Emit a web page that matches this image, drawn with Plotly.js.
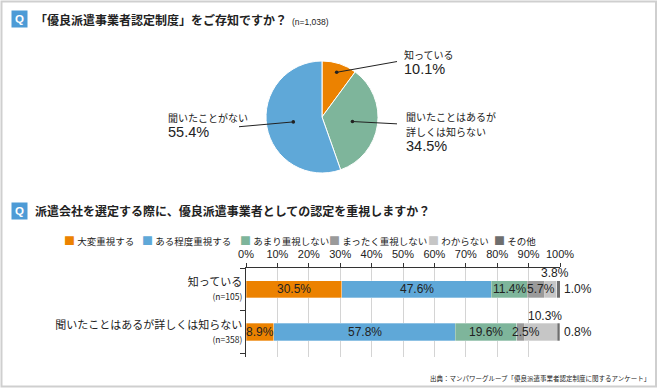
<!DOCTYPE html>
<html><head><meta charset="utf-8">
<script src="https://cdn.plot.ly/plotly-3.0.1.min.js"></script>
<style>html,body{margin:0;padding:0;background:#fff}#chart{width:660px;height:388px}</style>
</head><body><div id="chart"></div>
<script>
// ---- data ----
const pieLabels = ['知っている', '聞いたことはあるが<br>詳しくは知らない', '聞いたことがない'];
const pieValues = [10.1, 34.5, 55.4];
const pieColors = ['#ec8200', '#7eb59b', '#5fa8d8'];

const barCategories = ['知っている', '聞いたことはあるが詳しくは知らない'];
const barSampleSizes = ['(n=105)', '(n=358)'];
const seriesNames = ['大変重視する', 'ある程度重視する', 'あまり重視しない', 'まったく重視しない', 'わからない', 'その他'];
const sVeryImportant = [30.5, 8.9];
const sSomewhat = [47.6, 57.8];
const sNotMuch = [11.4, 19.6];
const sNotAtAll = [5.7, 2.5];
const sDontKnow = [3.8, 10.3];
const sOther = [1.0, 0.8];
const seriesColors = ['#ec8200', '#5fa8d8', '#7eb59b', '#9a9a9a', '#c6c6c6', '#6e6e6e'];
const xTicks = [0, 10, 20, 30, 40, 50, 60, 70, 80, 90, 100];

// ---- layout helpers ----
const W = 660, H = 388;
const px2x = p => p / W, px2y = p => 1 - p / H;
const JP = '"Noto Sans CJK JP", "Noto Sans", sans-serif';
const NUM = '"Liberation Sans", Arial, sans-serif';
const TXT = '#222';

const pieCx = 322, pieCy = 117, pieR = 56;
const allSeries = [sVeryImportant, sSomewhat, sNotMuch, sNotAtAll, sDontKnow, sOther];
const aboveIdx = 4, rightIdx = 5; // label placement for small segments
const labelShift = [0, 0, 0, 5, 4, 2];   // horizontal nudge of value labels per series (px)

const traces = [];
traces.push({
  type: 'pie', values: pieValues, labels: pieLabels, marker: {colors: pieColors, line: {color: '#ffffff', width: 1}},
  sort: false, direction: 'clockwise', rotation: 0, textinfo: 'none', hoverinfo: 'skip', showlegend: false,
  domain: {x: [px2x(pieCx - pieR), px2x(pieCx + pieR)], y: [px2y(pieCy + pieR), px2y(pieCy - pieR)]}
});

const yTickText = barCategories.map((c, i) => c + '<br><span style="font-size:8.5px">' + barSampleSizes[i] + '</span>');
allSeries.forEach((vals, k) => {
  traces.push({
    type: 'bar', orientation: 'h', name: seriesNames[k], y: barCategories, x: vals,
    marker: {color: seriesColors[k], line: {color: 'rgba(255,255,255,0.6)', width: 0.5}},
    hoverinfo: 'skip', showlegend: false, xaxis: 'x', yaxis: 'y'
  });
});

const annotations = [];
const shapes = [];
// frame
shapes.push({type: 'rect', xref: 'paper', yref: 'paper', x0: px2x(1.5), x1: px2x(656), y0: px2y(386.5), y1: px2y(1.5),
  line: {color: '#cfcfcf', width: 2}, fillcolor: 'rgba(0,0,0,0)', layer: 'below'});

// titles
function qTitle(yPx, text, extra) {
  annotations.push({xref: 'paper', yref: 'paper', x: px2x(19), y: px2y(yPx), xanchor: 'center', yanchor: 'middle',
    text: '<b>Q</b>', showarrow: false, bgcolor: '#4d9bd6', width: 15, height: 16, borderpad: 0,
    font: {family: NUM, size: 11.5, color: '#fff'}});
  annotations.push({xref: 'paper', yref: 'paper', x: px2x(33), y: px2y(yPx), xanchor: 'left', yanchor: 'middle',
    text: '<b>' + text + '</b>', showarrow: false, font: {family: JP, size: 12, color: TXT}});
  if (extra) annotations.push(extra);
}
qTitle(19, '「優良派遣事業者認定制度」をご存知ですか？', {xref: 'paper', yref: 'paper', x: px2x(290), y: px2y(22),
  xanchor: 'left', yanchor: 'middle', text: '(n=1,038)', showarrow: false, font: {family: NUM, size: 8.5, color: TXT}});
qTitle(211, '派遣会社を選定する際に、優良派遣事業者としての認定を重視しますか？');

// pie labels with leader lines (dot positions from slice mid-angles)
const total = pieValues.reduce((a, b) => a + b, 0);
const dotFrac = [0.84, 0.55, 0.52];
const tailPx = [[400, 61], [400, 124], [236, 127]];
const labelPx = [{x: 402, y: 62}, {x: 404, y: 131}, {x: 166, y: 125}];
let cum = 0;
pieValues.forEach((v, i) => {
  const mid = (cum + v / 2) / total * 2 * Math.PI; cum += v;
  const hx = pieCx + dotFrac[i] * pieR * Math.sin(mid);
  const hy = pieCy - dotFrac[i] * pieR * Math.cos(mid);
  annotations.push({xref: 'paper', yref: 'paper', x: px2x(hx), y: px2y(hy), text: ' ', showarrow: true,
    ax: tailPx[i][0] - hx, ay: tailPx[i][1] - hy, arrowhead: 6, arrowsize: 0.9, arrowwidth: 1, arrowcolor: '#222',
    standoff: 0, startstandoff: 0});
  annotations.push({xref: 'paper', yref: 'paper', x: px2x(labelPx[i].x), y: px2y(labelPx[i].y), xanchor: 'left',
    yanchor: 'middle', align: 'left', showarrow: false,
    text: '<span style="font-size:10px">' + pieLabels[i].replace('<br>', '</span><br><span style="font-size:10px">') + '</span>' +
      '<br><span style="font-family:Liberation Sans, Arial, sans-serif;font-size:14.5px">' + v.toFixed(1) + '%</span>',
    font: {family: JP, size: 11.5, color: TXT}});
});

// legend (manual, compact)
const legendX = [62, 140, 238, 327, 426, 492];
seriesNames.forEach((n, k) => {
  annotations.push({xref: 'paper', yref: 'paper', x: px2x(legendX[k]), y: px2y(240), xanchor: 'left', yanchor: 'middle',
    showarrow: false, text: '<span style="color:' + seriesColors[k] + ';font-size:11px">■</span> ' + n,
    font: {family: JP, size: 9.5, color: TXT}});
});

// value labels on bars
barCategories.forEach((c, i) => {
  let start = 0;
  allSeries.forEach((s, k) => {
    const v = s[i];
    const label = v.toFixed(1) + '%';
    const base = {xref: 'x', yref: 'y', y: c, showarrow: false, text: label, font: {family: NUM, size: 12, color: TXT}, xshift: labelShift[k]};
    if (k === aboveIdx) {
      annotations.push(Object.assign(base, {x: start + v / 2, yshift: 16, xanchor: 'center', yanchor: 'middle'}));
    } else if (k === rightIdx) {
      const end = allSeries.reduce((a, ss) => a + ss[i], 0);
      annotations.push(Object.assign(base, {x: end, xanchor: 'left', yanchor: 'middle'}));
    } else {
      annotations.push(Object.assign(base, {x: start + v / 2, xanchor: 'center', yanchor: 'middle'}));
    }
    start += v;
  });
});

// source
annotations.push({xref: 'paper', yref: 'paper', x: px2x(652), y: px2y(378), xanchor: 'right', yanchor: 'middle',
  showarrow: false, text: '出典：マンパワーグループ「優良派遣事業者認定制度に関するアンケート」', font: {family: JP, size: 6.5, color: TXT}});

const layout = {
  width: W, height: H, margin: {l: 0, r: 0, t: 0, b: 0}, paper_bgcolor: '#fff', plot_bgcolor: 'rgba(0,0,0,0)',
  barmode: 'stack', bargap: 0.6, showlegend: false, hovermode: false,
  xaxis: {domain: [px2x(246), px2x(560)], range: [0, 100], side: 'top', tickvals: xTicks, ticktext: xTicks.map(t => t + '%'),
    showgrid: true, gridcolor: '#d4d4d4', gridwidth: 1, zeroline: false, showline: true, linecolor: '#333', linewidth: 1.2,
    ticks: 'outside', ticklen: 4, tickcolor: '#333', tickfont: {family: NUM, size: 11, color: TXT}, automargin: false, fixedrange: true},
  yaxis: {domain: [px2y(357), px2y(268)], autorange: 'reversed', type: 'category', tickvals: barCategories, ticktext: yTickText,
    showline: true, linecolor: '#333', linewidth: 1.5, ticks: 'outside', tickson: 'boundaries', ticklen: 5, tickcolor: '#333',
    showgrid: false, zeroline: false, tickfont: {family: JP, size: 11, color: TXT}, automargin: false, fixedrange: true},
  annotations: annotations, shapes: shapes
};
Plotly.newPlot('chart', traces, layout, {displayModeBar: false, staticPlot: true});
</script></body></html>
